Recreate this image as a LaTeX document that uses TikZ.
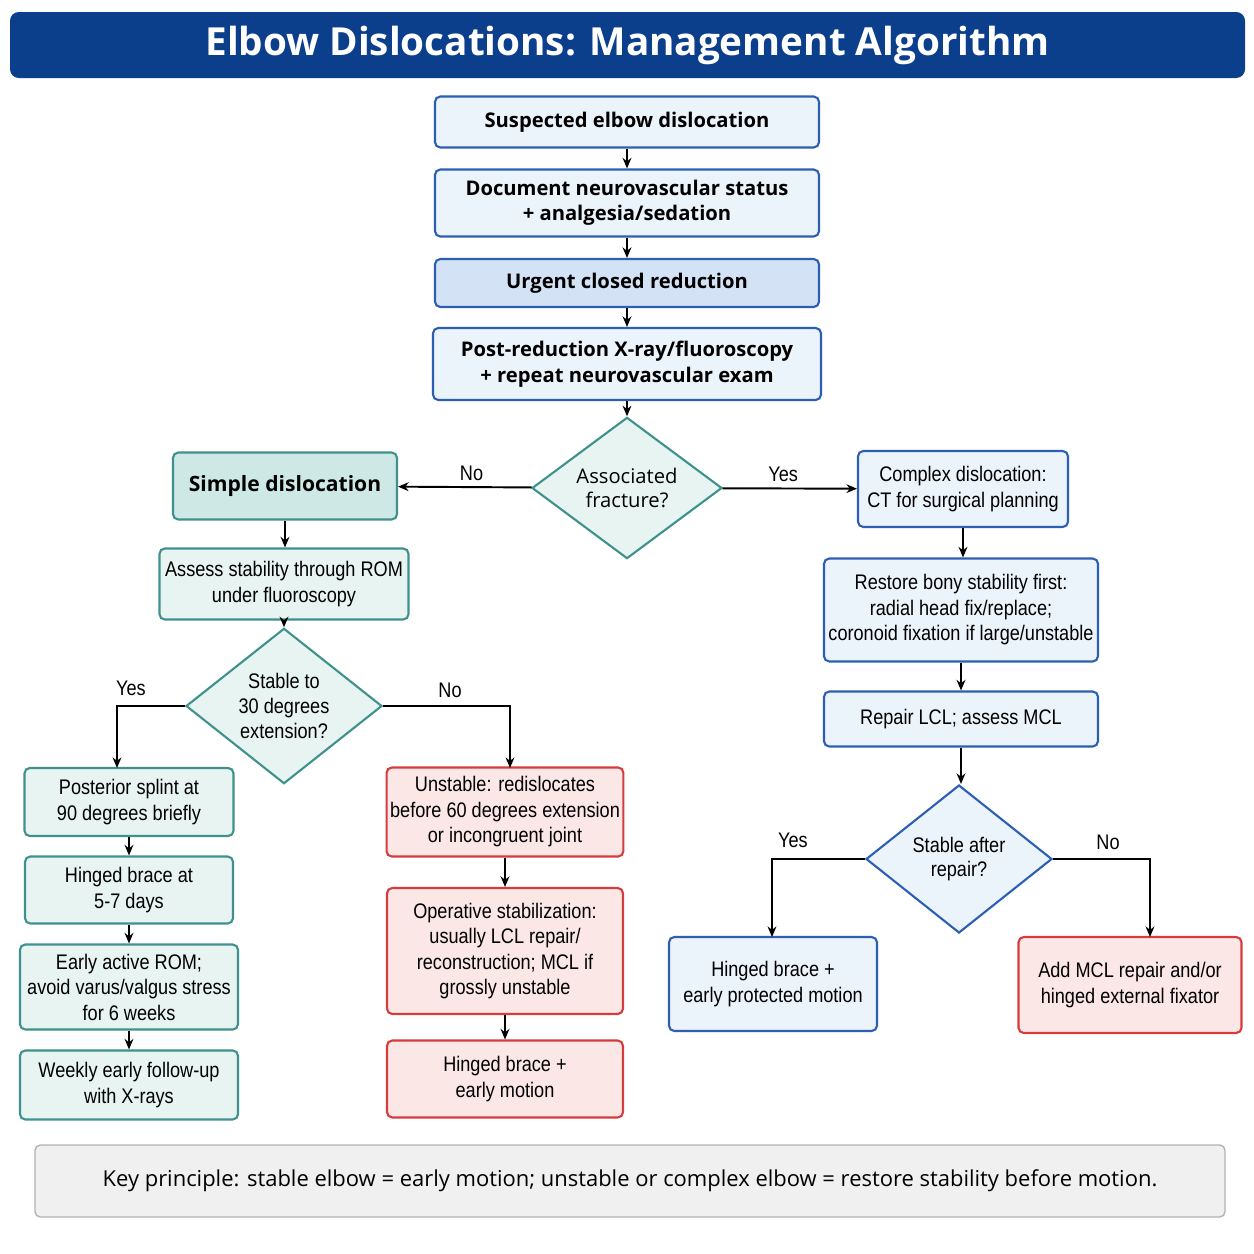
\documentclass[tikz,border=0pt]{standalone}
\usepackage{fontspec}
\setmainfont{Open Sans}
\newfontfamily\cond[FakeStretch=0.86]{Liberation Sans}
\usetikzlibrary{shapes.geometric,arrows.meta}
\definecolor{tb}{HTML}{0B3F8C}
\definecolor{bb}{HTML}{2C5FB3}
\definecolor{bf}{HTML}{EBF3FB}
\definecolor{uf}{HTML}{D3E2F4}
\definecolor{tbd}{HTML}{3E918C}
\definecolor{tf}{HTML}{E7F4F2}
\definecolor{tf2}{HTML}{CDE8E5}
\definecolor{rb}{HTML}{D63C3C}
\definecolor{rf}{HTML}{FCE7E7}
\begin{document}
\begin{tikzpicture}[x=0.02cm,y=-0.02cm,
 box/.style={draw,line width=1.2pt,rounded corners=3pt,align=center,inner sep=2pt,font=\fontsize{11.5}{14}\selectfont},
 blue/.style={box,draw=bb,fill=bf,font=\fontsize{11.5}{14.5}\selectfont\bfseries},
 bluec/.style={box,draw=bb,fill=bf,font=\fontsize{12}{14.5}\selectfont\cond},
 teal/.style={box,draw=tbd,fill=tf,font=\fontsize{12}{14.5}\selectfont\cond},
 red/.style={box,draw=rb,fill=rf,font=\fontsize{12}{14.5}\selectfont\cond},
 dia/.style={diamond,draw,line width=1.2pt,align=center,inner sep=0pt,font=\fontsize{11.5}{14}\selectfont},
 arr/.style={-{Stealth[length=6pt,width=5pt]},line width=1.1pt,black},
 lab/.style={font=\fontsize{12}{14}\selectfont\cond}]
\useasboundingbox (0,0) rectangle (1254,1254);
\node[fill=tb,rounded corners=5pt,minimum width=1235*0.02cm,minimum height=66*0.02cm,text=white,font=\fontsize{22}{26}\selectfont\bfseries] (title) at (627.5,45) {Elbow Dislocations: Management Algorithm};
\node[blue,minimum width=384*0.02cm,minimum height=51*0.02cm] (s) at (627,122) {Suspected elbow dislocation};
\node[blue,minimum width=384*0.02cm,minimum height=67*0.02cm] (d) at (627,203) {Document neurovascular status\\+ analgesia/sedation};
\node[blue,fill=uf,minimum width=384*0.02cm,minimum height=48*0.02cm] (u) at (627,283) {Urgent closed reduction};
\node[blue,minimum width=388*0.02cm,minimum height=72*0.02cm] (p) at (627,364) {Post-reduction X-ray/fluoroscopy\\+ repeat neurovascular exam};
\node[dia,draw=tbd,fill=tf,minimum width=190*0.02cm,minimum height=130*0.02cm] (af) at (627,488) {Associated\\fracture?};
\node[box,draw=tbd,fill=tf2,minimum width=224*0.02cm,minimum height=67*0.02cm,font=\fontsize{12}{14}\selectfont\bfseries] (sd) at (285,486) {Simple dislocation};
\node[bluec,minimum width=210*0.02cm,minimum height=76*0.02cm] (cd) at (963,489) {Complex dislocation:\\CT for surgical planning};
\node[teal,minimum width=249*0.02cm,minimum height=71*0.02cm] (as) at (284,584) {Assess stability through ROM\\under fluoroscopy};
\node[dia,draw=tbd,fill=tf,minimum width=196*0.02cm,minimum height=130*0.02cm,font=\fontsize{12}{14}\selectfont\cond] (st) at (284,706) {Stable to\\30 degrees\\extension?};
\node[bluec,minimum width=274*0.02cm,minimum height=103*0.02cm] (rs) at (961,610) {Restore bony stability first:\\radial head fix/replace;\\coronoid fixation if large/unstable};
\node[bluec,minimum width=274*0.02cm,minimum height=55*0.02cm] (rl) at (961,719) {Repair LCL; assess MCL};
\node[dia,draw=bb,fill=bf,minimum width=186*0.02cm,minimum height=148*0.02cm,font=\fontsize{12}{14}\selectfont\cond] (sa) at (959,859) {Stable after\\repair?};
\node[teal,minimum width=209*0.02cm,minimum height=68*0.02cm] (ps) at (129,802) {Posterior splint at\\90 degrees briefly};
\node[teal,minimum width=208*0.02cm,minimum height=67*0.02cm] (hb) at (129,890) {Hinged brace at\\5-7 days};
\node[teal,minimum width=218*0.02cm,minimum height=85*0.02cm] (ea) at (129,987) {Early active ROM;\\avoid varus/valgus stress\\for 6 weeks};
\node[teal,minimum width=218*0.02cm,minimum height=69*0.02cm] (wf) at (129,1085) {Weekly early follow-up\\with X-rays};
\node[red,minimum width=236*0.02cm,minimum height=89*0.02cm] (un) at (505,812) {Unstable: redislocates\\before 60 degrees extension\\or incongruent joint};
\node[red,minimum width=236*0.02cm,minimum height=126*0.02cm] (op) at (505,951) {Operative stabilization:\\usually LCL repair/\\reconstruction; MCL if\\grossly unstable};
\node[red,minimum width=236*0.02cm,minimum height=77*0.02cm] (hm) at (505,1079) {Hinged brace +\\early motion};
\node[bluec,minimum width=208*0.02cm,minimum height=94*0.02cm] (hp) at (773,984) {Hinged brace +\\early protected motion};
\node[red,minimum width=223*0.02cm,minimum height=96*0.02cm] (am) at (1130,985) {Add MCL repair and/or\\hinged external fixator};
\node[box,draw=gray!60,fill=gray!12,line width=0.8pt,minimum width=1190*0.02cm,minimum height=72*0.02cm,font=\fontsize{12.5}{15}\selectfont] (key) at (630,1181) {Key principle: stable elbow = early motion; unstable or complex elbow = restore stability before motion.};
\draw[arr] (s) -- (d);
\draw[arr] (d) -- (u);
\draw[arr] (u) -- (p);
\draw[arr] (p) -- (af);
\draw[arr] (af) -- node[lab,above,pos=0.45]{No} (sd);
\draw[arr] (af) -- node[lab,above,pos=0.45]{Yes} (cd);
\draw[arr] (sd.south) -- (sd.south|-as.north);
\draw[arr] (as) -- (st);
\draw[arr] (cd.south) -- (cd.south|-rs.north);
\draw[arr] (rs) -- (rl);
\draw[arr] (rl.south) -- (rl.south|-sa.north);
\coordinate (c1) at (117,768);
\coordinate (c2) at (510,768);
\coordinate (c3) at (772,937);
\coordinate (c4) at (1150,937);
\draw[arr] (st.west) -| (c1);
\draw[arr] (st.east) -| (c2);
\draw[arr] (sa.west) -| (c3);
\draw[arr] (sa.east) -| (c4);
\node[lab] (ly) at (131,688) {Yes};
\node[lab] (ln) at (450,690) {No};
\node[lab] (ly2) at (793,840) {Yes};
\node[lab] (ln2) at (1108,842) {No};
\draw[arr] (ps) -- (hb);
\draw[arr] (hb) -- (ea);
\draw[arr] (ea) -- (wf);
\draw[arr] (un) -- (op);
\draw[arr] (op) -- (hm);
\end{tikzpicture}
\end{document}
